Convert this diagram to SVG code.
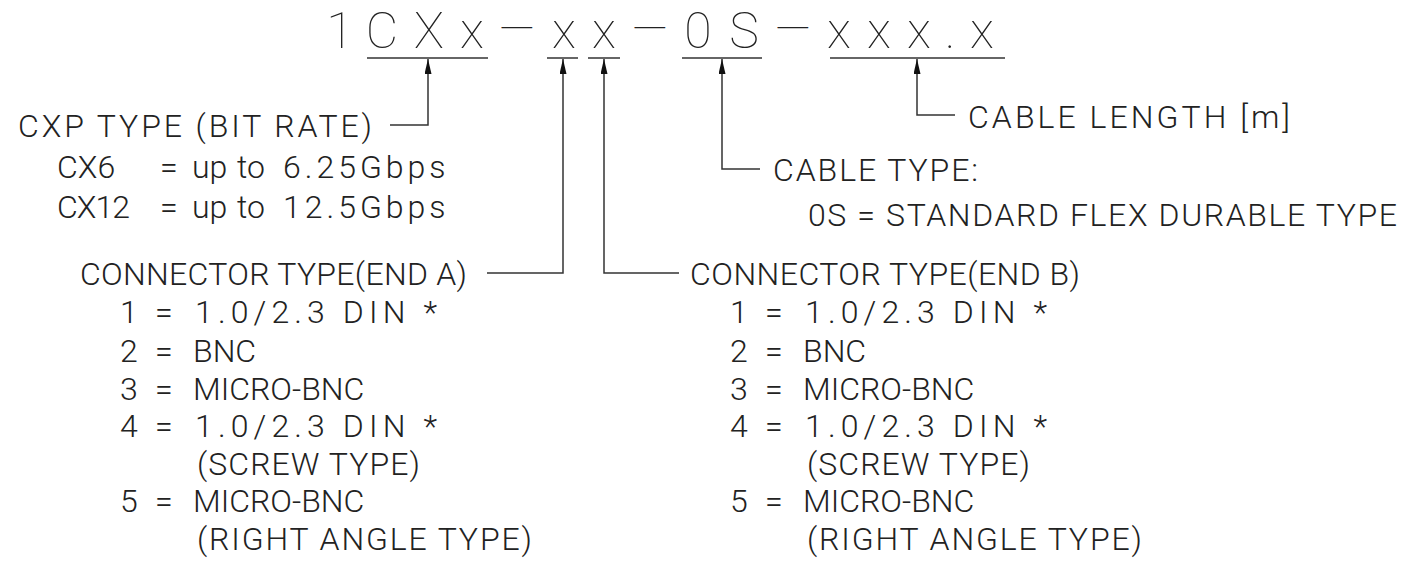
<svg xmlns="http://www.w3.org/2000/svg" width="1404" height="563" viewBox="0 0 1404 563">
<style>
text{font-family:Roboto,"DejaVu Sans",sans-serif;font-weight:300;fill:#222;}
.t{font-size:32px;}
.title{font-size:50px;text-anchor:middle;font-weight:100;}
.dash{font-size:47px;}
.ln{fill:none;stroke:#333;stroke-width:1.5;}
</style>
<defs>
<marker id="arr" markerUnits="userSpaceOnUse" viewBox="0 0 15 7" refX="15" refY="3.5" markerWidth="15" markerHeight="7" orient="auto">
<path d="M0,0 L15,3.5 L0,7 z" fill="#111"/>
</marker>
</defs>
<rect width="1404" height="563" fill="#fff"/>

<g id="part-number">
<text class="title" y="48"><tspan x="340">1</tspan><tspan x="382">C</tspan><tspan x="429">X</tspan><tspan x="472">x</tspan><tspan class="dash" x="517" y="45">—</tspan><tspan x="564" y="48">x</tspan><tspan x="604">x</tspan><tspan class="dash" x="650" y="45">—</tspan><tspan x="698" y="48">0</tspan><tspan x="744">S</tspan><tspan class="dash" x="793" y="45">—</tspan><tspan x="839" y="48">x</tspan><tspan x="879">x</tspan><tspan x="919">x</tspan><tspan x="950">.</tspan><tspan x="982">x</tspan></text>
<g class="ln">
<line x1="367" y1="58" x2="488" y2="58"/>
<line x1="547" y1="58" x2="578" y2="58"/>
<line x1="588" y1="58" x2="620" y2="58"/>
<line x1="682" y1="58" x2="762" y2="58"/>
<line x1="830" y1="58" x2="1005" y2="58"/>
</g>
</g>

<g id="connectors">
<path class="ln" d="M390,125 H428 V59" marker-end="url(#arr)"/>
<path class="ln" d="M487,273 H563 V59" marker-end="url(#arr)"/>
<path class="ln" d="M679,273 H604 V59" marker-end="url(#arr)"/>
<path class="ln" d="M760,169 H722 V59" marker-end="url(#arr)"/>
<path class="ln" d="M955,115 H917 V59" marker-end="url(#arr)"/>
</g>

<g id="cxp-type">
<text class="t" x="18" y="137" textLength="354" lengthAdjust="spacing">CXP TYPE (BIT RATE)</text>
<text class="t" y="178"><tspan x="57">CX6</tspan><tspan x="160">=</tspan><tspan x="192">up</tspan><tspan x="237">to</tspan><tspan x="283" letter-spacing="4">6.25Gbps</tspan></text>
<text class="t" y="218"><tspan x="57" letter-spacing="-1">CX12</tspan><tspan x="160">=</tspan><tspan x="192">up</tspan><tspan x="237">to</tspan><tspan x="283" letter-spacing="4">12.5Gbps</tspan></text>
</g>

<g id="cable-length">
<text class="t" x="968" y="128" textLength="322" lengthAdjust="spacing">CABLE LENGTH [m]</text>
</g>

<g id="cable-type">
<text class="t" x="773" y="181" textLength="205" lengthAdjust="spacing">CABLE TYPE:</text>
<text class="t" x="808" y="226" textLength="589" lengthAdjust="spacing">0S = STANDARD FLEX DURABLE TYPE</text>
</g>

<g id="connector-end-a">
<text class="t" x="80" y="285" textLength="387" lengthAdjust="spacing">CONNECTOR TYPE(END A)</text>
<text class="t" y="323"><tspan x="120">1</tspan><tspan x="155">=</tspan><tspan x="195" textLength="242" lengthAdjust="spacing">1.0/2.3 DIN *</tspan></text>
<text class="t" y="362"><tspan x="120">2</tspan><tspan x="155">=</tspan><tspan x="193">BNC</tspan></text>
<text class="t" y="400"><tspan x="120">3</tspan><tspan x="155">=</tspan><tspan x="193">MICRO-BNC</tspan></text>
<text class="t" y="437"><tspan x="120">4</tspan><tspan x="155">=</tspan><tspan x="195" textLength="242" lengthAdjust="spacing">1.0/2.3 DIN *</tspan></text>
<text class="t" x="197" y="475" textLength="223" lengthAdjust="spacing">(SCREW TYPE)</text>
<text class="t" y="512"><tspan x="120">5</tspan><tspan x="155">=</tspan><tspan x="193">MICRO-BNC</tspan></text>
<text class="t" x="197" y="550" textLength="335" lengthAdjust="spacing">(RIGHT ANGLE TYPE)</text>
</g>

<g id="connector-end-b">
<text class="t" x="690" y="285" textLength="390" lengthAdjust="spacing">CONNECTOR TYPE(END B)</text>
<text class="t" y="323"><tspan x="730">1</tspan><tspan x="765">=</tspan><tspan x="805" textLength="242" lengthAdjust="spacing">1.0/2.3 DIN *</tspan></text>
<text class="t" y="362"><tspan x="730">2</tspan><tspan x="765">=</tspan><tspan x="803">BNC</tspan></text>
<text class="t" y="400"><tspan x="730">3</tspan><tspan x="765">=</tspan><tspan x="803">MICRO-BNC</tspan></text>
<text class="t" y="437"><tspan x="730">4</tspan><tspan x="765">=</tspan><tspan x="805" textLength="242" lengthAdjust="spacing">1.0/2.3 DIN *</tspan></text>
<text class="t" x="807" y="475" textLength="223" lengthAdjust="spacing">(SCREW TYPE)</text>
<text class="t" y="512"><tspan x="730">5</tspan><tspan x="765">=</tspan><tspan x="803">MICRO-BNC</tspan></text>
<text class="t" x="807" y="550" textLength="335" lengthAdjust="spacing">(RIGHT ANGLE TYPE)</text>
</g>
</svg>
